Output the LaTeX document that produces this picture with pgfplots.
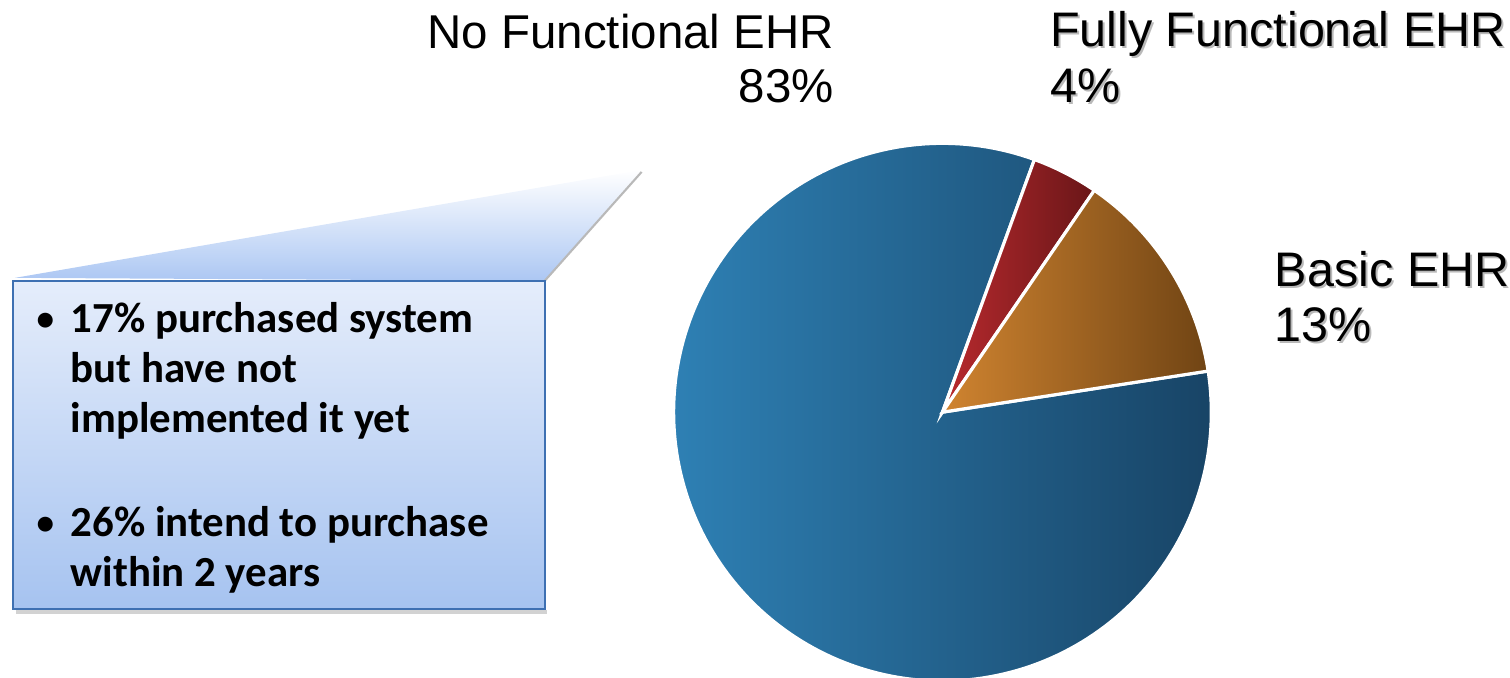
\documentclass[border=0pt]{standalone}
\usepackage{pgfplots}
\usepackage{pgfplotstable}
\pgfplotsset{compat=1.18}
\usepackage{fontspec}
\setmainfont{Liberation Sans}
\newfontfamily\calibri{Carlito}
\definecolor{blL}{RGB}{46,128,180}
\definecolor{blR}{RGB}{24,68,102}
\definecolor{rdL}{RGB}{185,42,46}
\definecolor{rdR}{RGB}{105,22,24}
\definecolor{orL}{RGB}{208,132,48}
\definecolor{orR}{RGB}{112,68,20}
\definecolor{boxTop}{RGB}{229,237,251}
\definecolor{boxBot}{RGB}{166,195,240}
\definecolor{boxLine}{RGB}{62,112,178}
\definecolor{callBot}{RGB}{172,199,243}

\pgfplotstableread{
name value
Basic 13
Fully 4
None 83
}\piedata

\pgfplotstablegetelem{0}{value}\of\piedata \let\vBasic\pgfplotsretval
\pgfplotstablegetelem{1}{value}\of\piedata \let\vFully\pgfplotsretval
\pgfplotstablegetelem{2}{value}\of\piedata \let\vNone\pgfplotsretval
\pgfmathsetmacro\aA{8.8}
\pgfmathsetmacro\aB{\aA+3.6*\vBasic}
\pgfmathsetmacro\aC{\aB+3.6*\vFully}
\pgfmathsetmacro\aD{\aC+3.6*\vNone}

\begin{document}
\begin{tikzpicture}
\useasboundingbox (0,0) rectangle (15.1cm,6.77cm);
\begin{axis}[
  at={(0,0)}, anchor=south west,
  x=0.01cm, y=0.01cm,
  xmin=-943, xmax=567, ymin=-265, ymax=412,
  hide axis,
]
\addplot[data cs=polar, domain=\aC:\aD, samples=200, draw=white, line width=0.9pt,
  left color=blL, right color=blR] (x,269) -- (axis cs:0,0) -- cycle;
\addplot[data cs=polar, domain=\aB:\aC, samples=20, draw=white, line width=0.9pt,
  left color=rdL, right color=rdR] (x,269) -- (axis cs:0,0) -- cycle;
\addplot[data cs=polar, domain=\aA:\aB, samples=60, draw=white, line width=0.9pt,
  left color=orL, right color=orR] (x,269) -- (axis cs:0,0) -- cycle;
\end{axis}

\begin{scope}[x=0.01cm, y=-0.01cm, shift={(0,6.77cm)}]
  % callout pointer
  \shade[top color=white, bottom color=callBot] (15,278) -- (642,170) -- (545,281) -- cycle;
  \draw[gray!55, line width=0.6pt] (545,281) -- (642,172);
  % box
  \draw[gray!35, line width=1.2pt] (16,612) -- (547,612);
  \draw[top color=boxTop, bottom color=boxBot, draw=boxLine, line width=0.6pt] (13,281) rectangle (545,609);
  \begin{scope}[every node/.style={inner sep=0pt, anchor=base west, font=\calibri\bfseries\fontsize{12.2pt}{14pt}\selectfont}]
    \node[font=\calibri\bfseries\fontsize{10pt}{12pt}\selectfont] at (36,331) {\textbullet};
    \node at (70,333) {17\% purchased system};
    \node at (70,383) {but have not};
    \node at (70,433) {implemented it yet};
    \node[font=\calibri\bfseries\fontsize{10pt}{12pt}\selectfont] at (36,535) {\textbullet};
    \node at (70,537) {26\% intend to purchase};
    \node at (70,587) {within 2 years};
  \end{scope}
  % labels
  \begin{scope}[every node/.style={inner sep=0pt, font=\fontsize{13.5pt}{16pt}\selectfont}]
    \node[anchor=base east] at (835,49) {No Functional EHR};
    \node[anchor=base east] at (835,103) {83\%};
  \end{scope}
  \begin{scope}[every node/.style={inner sep=0pt, font=\fontsize{13.8pt}{16pt}\selectfont}]
    \node[anchor=base west, text=gray!55] at (1052,49) {Fully Functional EHR};
    \node[anchor=base west, text=gray!55] at (1052,105) {4\%};
    \node[anchor=base west] at (1050,47) {Fully Functional EHR};
    \node[anchor=base west] at (1050,103) {4\%};
    \node[anchor=base west, text=gray!55] at (1277,289) {Basic EHR};
    \node[anchor=base west, text=gray!55] at (1277,344) {13\%};
    \node[anchor=base west] at (1275,287) {Basic EHR};
    \node[anchor=base west] at (1275,342) {13\%};
  \end{scope}
\end{scope}
\end{tikzpicture}
\end{document}
